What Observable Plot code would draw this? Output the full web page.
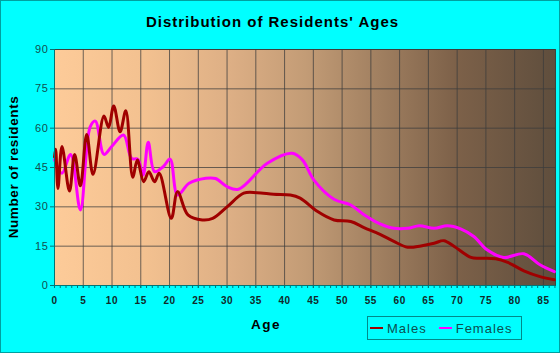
<!DOCTYPE html>
<html>
<head>
<meta charset="utf-8">
<script src="https://cdn.jsdelivr.net/npm/d3@7"></script>
<script src="https://cdn.jsdelivr.net/npm/@observablehq/plot@0.6"></script>
<style>
  html, body { margin: 0; padding: 0; background: #00ffff; }
  #wrap { position: relative; width: 560px; height: 353px; background: #00ffff; overflow: hidden; font-family: "Liberation Sans", Arial, sans-serif; }
  #border { position: absolute; left: 0; top: 0; width: 558px; height: 351px; border: 1px solid #00a0a0; pointer-events: none; }
  #title { position: absolute; left: 0; width: 545px; top: 13px; text-align: center; font-weight: bold; font-size: 15px; letter-spacing: 1px; color: #000; }
  #ytitle { position: absolute; left: 13px; top: 167px; transform: translate(-50%, -50%) rotate(-90deg); white-space: nowrap; font-weight: bold; font-size: 13.5px; letter-spacing: 0.6px; color: #000; }
  #xtitle { position: absolute; left: 266px; top: 324px; transform: translate(-50%, -50%); font-weight: bold; font-size: 13.5px; letter-spacing: 1.5px; color: #000; }
  #legend { position: absolute; left: 367px; top: 316px; width: 153px; height: 22px; border: 1px solid #008a8a; display: flex; align-items: center; font-size: 13px; letter-spacing: 1px; color: #0b4f4f; }
  #legend .item { display: flex; align-items: center; margin-left: 2px; }
  #legend .item + .item { margin-left: 12px; }
  #legend .sw { display: inline-block; width: 13px; height: 2px; margin-right: 4px; }
  #chart { position: absolute; left: 0; top: 0; }
  #chart [aria-label="frame"], #chart [aria-label="frame"] rect { fill: url(#bgGrad); }
</style>
</head>
<body>
<div id="wrap">
  <div id="chart"></div>
  <div id="title">Distribution of Residents' Ages</div>
  <div id="ytitle">Number of residents</div>
  <div id="xtitle">Age</div>
  <div id="legend"></div>
  <div id="border"></div>
</div>
<script>
const seriesNames = ["Males", "Females"];
const seriesColors = ["#a00000", "#ff00ff"];

const maleAges = [0, 0.2, 0.6, 1.3, 2.6, 3.5, 4.5, 5.6, 6.7, 8.6, 9.4, 10.3, 11.4, 12.4, 13.6, 14.4, 15.5, 16.4, 17.4, 18.2, 20.3, 21.4, 23.2, 25.7, 27.5, 30, 32.9, 35.2, 38.1, 41, 42.7, 45.6, 48.6, 51.5, 53.8, 56.6, 59, 61.4, 63.7, 66, 67.7, 69.5, 72.4, 74.1, 76.7, 78.8, 81.6, 84.4, 86.9];
const maleValues = [49, 52, 37, 53, 36, 50, 38, 57.6, 42.4, 64.6, 60.3, 68.5, 58.6, 66.6, 41.3, 47.9, 39.6, 43.4, 39.6, 42.8, 25.6, 35.8, 26.9, 25, 25.6, 30, 35.2, 35.4, 34.8, 34.5, 33.3, 28.4, 25, 24.4, 22.1, 19.5, 16.8, 14.6, 15.1, 16.1, 17.1, 14.9, 10.7, 10.4, 10.2, 8.8, 5.6, 3.4, 2.2];

const femaleAges = [0, 1.3, 2.8, 4.5, 6.2, 7.1, 8.6, 9.9, 12, 13.4, 14.5, 15.4, 16.3, 17.4, 18.9, 20.1, 21.4, 23.4, 26.3, 28, 30, 32, 37, 41.3, 43.1, 45.1, 48.6, 51.5, 53.8, 56.6, 59, 61.4, 63.4, 66, 68.3, 70.6, 72.9, 75.2, 78.1, 81.6, 84.4, 86.9];
const femaleValues = [48, 42.8, 50, 28.8, 60.5, 62.7, 50, 52.9, 57.4, 48.5, 48.1, 42.1, 54.6, 43.4, 45.3, 48.2, 34.5, 39, 40.9, 40.8, 37.7, 36.7, 46.6, 50.4, 47.9, 40.2, 32.9, 30.7, 27, 23.5, 21.8, 21.8, 22.8, 21.8, 22.8, 21.6, 18.7, 13.6, 10.7, 12.1, 7.9, 5.3];

const xTicks = [0, 5, 10, 15, 20, 25, 30, 35, 40, 45, 50, 55, 60, 65, 70, 75, 80, 85];
const xMinorTicks = d3.range(0, 88, 1);
const yTicks = [0, 15, 30, 45, 60, 75, 90];

const males = maleAges.map((a, i) => ({age: a, value: maleValues[i], series: "Males"}));
const females = femaleAges.map((a, i) => ({age: a, value: femaleValues[i], series: "Females"}));

const axisColor = "#007575";
const gridColor = "#3c3c3c";

const svg = Plot.plot({
  width: 560,
  height: 353,
  marginLeft: 54,
  marginRight: 5,
  marginTop: 49,
  marginBottom: 68,
  style: {background: "transparent", overflow: "visible"},
  x: {domain: [0, 87.1]},
  y: {domain: [0, 90]},
  marks: [
    Plot.frame({fill: "#fccb99", stroke: "#3a3026", strokeOpacity: 0.8}),
    Plot.gridX({ticks: xTicks, stroke: gridColor, strokeOpacity: 0.75}),
    Plot.gridY({ticks: yTicks, stroke: gridColor, strokeOpacity: 0.75}),
    Plot.line(females, {x: "age", y: "value", stroke: seriesColors[1], strokeWidth: 3, curve: "catmull-rom"}),
    Plot.line(males, {x: "age", y: "value", stroke: seriesColors[0], strokeWidth: 3, curve: "catmull-rom"}),
    Plot.ruleX([0], {stroke: axisColor, strokeWidth: 1}),
    Plot.ruleY([0], {stroke: axisColor, strokeWidth: 1}),
    Plot.axisX({ticks: xMinorTicks, tickSize: 3, tickFormat: () => "", stroke: axisColor, label: null}),
    Plot.axisX({ticks: xTicks, tickSize: 3, tickPadding: 8, stroke: axisColor, fill: "#102a2a", fontSize: 10, fontWeight: "bold", label: null, tickFormat: d => String(d)}),
    Plot.axisY({ticks: yTicks, tickSize: 4, tickPadding: 2, stroke: axisColor, fill: "#11504f", fontSize: 11, label: null, tickFormat: d => String(d)})
  ]
});

// gradient definition for the plot background
const ns = "http://www.w3.org/2000/svg";
const defs = document.createElementNS(ns, "defs");
const grad = document.createElementNS(ns, "linearGradient");
grad.setAttribute("id", "bgGrad");
grad.setAttribute("x1", "0"); grad.setAttribute("x2", "1");
grad.setAttribute("y1", "0"); grad.setAttribute("y2", "0");
[[0, "#fdcb99"], [0.18, "#f3c190"], [0.35, "#ddaf85"], [0.5, "#c39c76"], [0.65, "#a07f60"], [0.8, "#7d6149"], [1, "#5f4e3d"]].forEach(([o, c]) => {
  const s = document.createElementNS(ns, "stop");
  s.setAttribute("offset", o);
  s.setAttribute("stop-color", c);
  grad.appendChild(s);
});
defs.appendChild(grad);
svg.insertBefore(defs, svg.firstChild);
svg.querySelectorAll("text").forEach(t => t.style.letterSpacing = "0.6px");
svg.style.fontFamily = '"Liberation Sans", Arial, sans-serif';
document.getElementById("chart").appendChild(svg);

const legend = document.getElementById("legend");
seriesNames.forEach((n, i) => {
  const item = document.createElement("span");
  item.className = "item";
  const sw = document.createElement("span");
  sw.className = "sw";
  sw.style.background = seriesColors[i];
  item.appendChild(sw);
  item.appendChild(document.createTextNode(n));
  legend.appendChild(item);
});
</script>
</body>
</html>
